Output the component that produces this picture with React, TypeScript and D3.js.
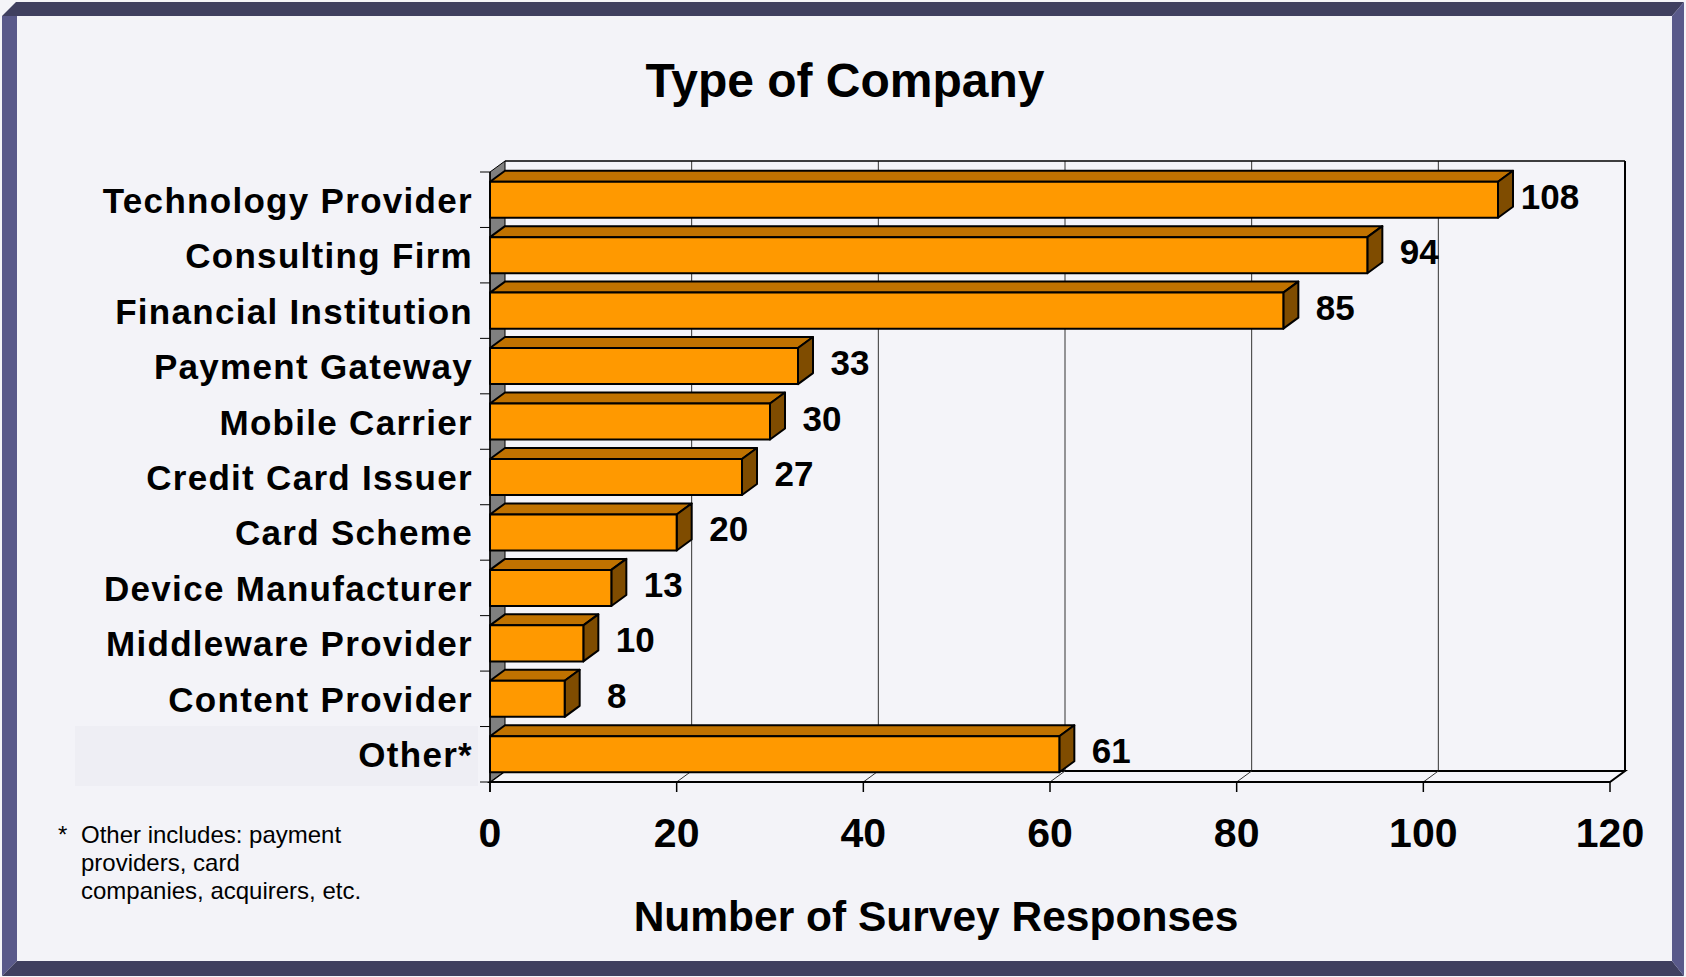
import React from "react";
import * as d3 from "d3";

const categories = [
  "Technology Provider",
  "Consulting Firm",
  "Financial Institution",
  "Payment Gateway",
  "Mobile Carrier",
  "Credit Card Issuer",
  "Card Scheme",
  "Device Manufacturer",
  "Middleware Provider",
  "Content Provider",
  "Other*",
];
const values = [108, 94, 85, 33, 30, 27, 20, 13, 10, 8, 61];
const xTicks = [0, 20, 40, 60, 80, 100, 120];
const title = "Type of Company";
const xTitle = "Number of Survey Responses";
const footnote = ["Other includes: payment", "providers, card", "companies, acquirers, etc."];

const W = 1686;
const H = 977;
const FONT = "'Liberation Sans', Arial, Helvetica, sans-serif";

export default function App() {
  const x0 = 490, x1 = 1610, yTop = 172, yBot = 782;
  const dx = 15, dy = 11;
  const x = d3.scaleLinear().domain([0, 120]).range([x0, x1]);
  const y = d3.scaleBand<string>().domain(categories).range([yTop, yBot]).paddingInner(0.35).paddingOuter(0.175);
  const band = (yBot - yTop) / categories.length;
  const bounds = d3.range(categories.length + 1).map((i) => yTop + i * band);

  const front = "#ff9900", topC = "#c07200", sideC = "#7f4c00";

  return (
    <svg width={W} height={H} style={{ position: "absolute", left: 0, top: 0 }} xmlns="http://www.w3.org/2000/svg">
      {/* page */}
      <rect x={0} y={0} width={W} height={H} fill="#f4f4f8" />
      {/* frame */}
      <polygon points="2,16 16,2 1684,2 1672,16" fill="#3f3f5f" />
      <polygon points="2,16 17,16 17,961 2,976" fill="#59598a" />
      <polygon points="2,976 17,961 1672,961 1684,976" fill="#3f3f5f" />
      <polygon points="1672,16 1684,2 1684,976 1672,961" fill="#59598a" />
      <rect x={17} y={16} width={1655} height={945} fill="#f3f3f8" />

      {/* title */}
      <text x={845} y={97} textAnchor="middle" fontFamily={FONT} fontWeight="bold" fontSize={48} fill="#000">
        {title}
      </text>

      {/* Other highlight box */}
      <rect x={75} y={726} width={403} height={60} fill="#eeeef4" />

      {/* back wall */}
      <rect x={x0 + dx} y={yTop - dy} width={x1 - x0} height={yBot - yTop} fill="#f4f4f9" />
      {xTicks.slice(1, -1).map((t) => (
        <line key={"g" + t} x1={x(t) + dx} x2={x(t) + dx} y1={yTop - dy} y2={yBot - dy} stroke="#333" strokeWidth={1} />
      ))}
      <line x1={x0 + dx} x2={x1 + dx} y1={yTop - dy} y2={yTop - dy} stroke="#000" strokeWidth={1.5} />
      <line x1={x1 + dx} x2={x1 + dx} y1={yTop - dy} y2={yBot - dy} stroke="#000" strokeWidth={2} />

      {/* floor */}
      <polygon
        points={`${x0},${yBot} ${x1},${yBot} ${x1 + dx},${yBot - dy} ${x0 + dx},${yBot - dy}`}
        fill="#f4f4f9"
        stroke="#000"
        strokeWidth={2}
      />
      {xTicks.slice(1, -1).map((t) => (
        <line key={"f" + t} x1={x(t)} x2={x(t) + dx} y1={yBot} y2={yBot - dy} stroke="#333" strokeWidth={1} />
      ))}

      {/* side wall */}
      <polygon
        points={`${x0},${yTop} ${x0 + dx},${yTop - dy} ${x0 + dx},${yBot - dy} ${x0},${yBot}`}
        fill="#808080"
        stroke="#000"
        strokeWidth={1}
      />

      {/* bars */}
      {categories.map((c, i) => {
        const by = y(c) as number;
        const bh = y.bandwidth();
        const bx = x(0);
        const ex = x(values[i]);
        return (
          <g key={c} stroke="#000" strokeWidth={2} strokeLinejoin="round">
            <polygon points={`${bx},${by} ${bx + dx},${by - dy} ${ex + dx},${by - dy} ${ex},${by}`} fill={topC} />
            <polygon points={`${ex},${by} ${ex + dx},${by - dy} ${ex + dx},${by + bh - dy} ${ex},${by + bh}`} fill={sideC} />
            <rect x={bx} y={by} width={ex - bx} height={bh} fill={front} />
          </g>
        );
      })}

      {/* value labels */}
      {categories.map((c, i) => {
        const cy = (y(c) as number) + y.bandwidth() / 2;
        return (
          <text key={"v" + c} x={x(values[i]) + 52} y={cy + 9} textAnchor="middle" fontFamily={FONT} fontWeight="bold" fontSize={35} fill="#000">
            {values[i]}
          </text>
        );
      })}

      {/* axes */}
      <line x1={x0} x2={x0} y1={yTop} y2={yBot + 10} stroke="#000" strokeWidth={1.5} />
      {bounds.map((b, i) => (
        <line key={"lt" + i} x1={x0 - 10} x2={x0} y1={b} y2={b} stroke="#000" strokeWidth={1} />
      ))}
      {xTicks.map((t) => (
        <line key={"bt" + t} x1={x(t)} x2={x(t)} y1={yBot} y2={yBot + 10} stroke="#000" strokeWidth={1.5} />
      ))}
      <line x1={x0} x2={x1} y1={yBot} y2={yBot} stroke="#000" strokeWidth={2} />

      {/* category labels */}
      {categories.map((c) => {
        const cy = (y(c) as number) + y.bandwidth() / 2;
        return (
          <text key={"c" + c} x={473} y={cy + 13} textAnchor="end" fontFamily={FONT} fontWeight="bold" fontSize={35} letterSpacing={1.3} fill="#000">
            {c}
          </text>
        );
      })}

      {/* tick labels */}
      {xTicks.map((t) => (
        <text key={"tl" + t} x={x(t)} y={847} textAnchor="middle" fontFamily={FONT} fontWeight="bold" fontSize={41} fill="#000">
          {t}
        </text>
      ))}

      {/* x title */}
      <text x={936} y={931} textAnchor="middle" fontFamily={FONT} fontWeight="bold" fontSize={42.5} fill="#000">
        {xTitle}
      </text>

      {/* footnote */}
      <text x={58} y={843} fontFamily={FONT} fontSize={24} fill="#000">*</text>
      {footnote.map((l, i) => (
        <text key={"fn" + i} x={81} y={843 + i * 28} fontFamily={FONT} fontSize={24} fill="#000">
          {l}
        </text>
      ))}
    </svg>
  );
}
